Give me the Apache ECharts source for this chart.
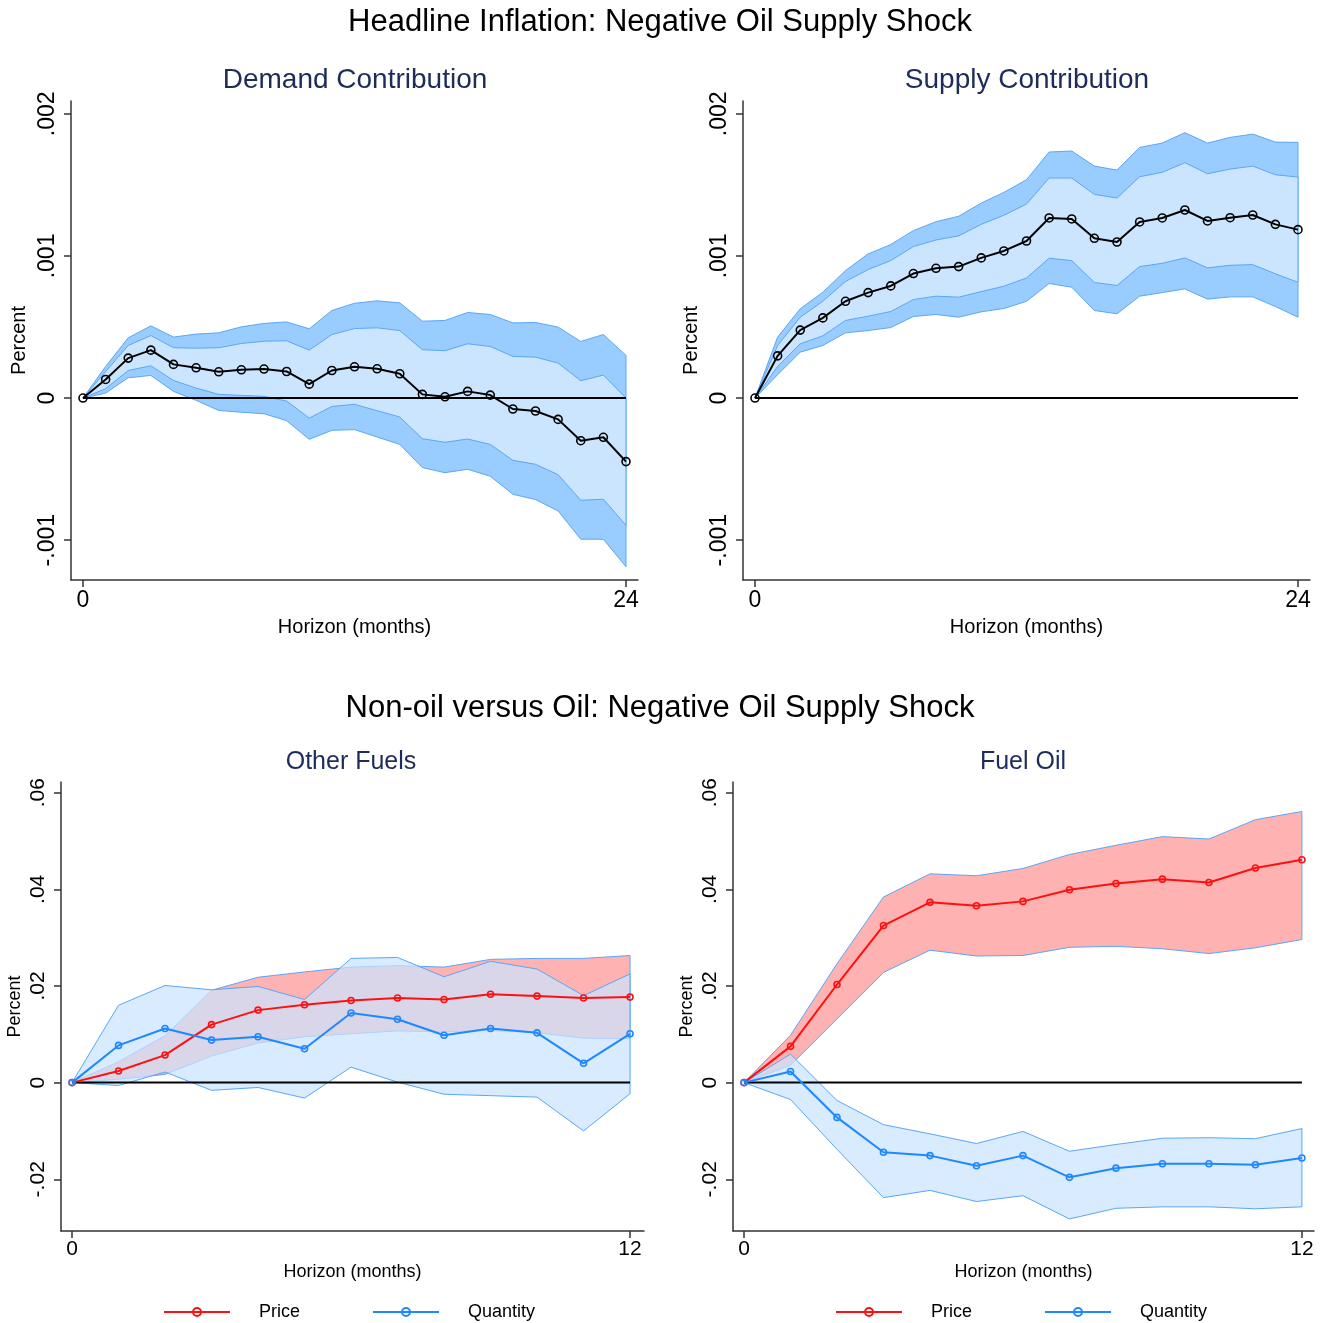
<!DOCTYPE html>
<html>
<head>
<meta charset="utf-8">
<script src="https://cdn.jsdelivr.net/npm/echarts@6/dist/echarts.min.js"></script>
<style>
  html, body { margin: 0; padding: 0; background: #fff; }
  #chart { width: 1327px; height: 1323px; }
</style>
</head>
<body>
<div id="chart"></div>
<script>
// horizons
const horizonLong = [0, 1, 2, 3, 4, 5, 6, 7, 8, 9, 10, 11, 12, 13, 14, 15, 16, 17, 18, 19, 20, 21, 22, 23, 24];
const horizonShort = [0, 1, 2, 3, 4, 5, 6, 7, 8, 9, 10, 11, 12];

// Demand contribution
const demandMid = [0, 0.000131, 0.000281, 0.000337, 0.000237, 0.000213, 0.000185, 0.000199, 0.000204, 0.000187, 0.000098, 0.000194, 0.00022, 0.000206, 0.000171, 0.000026, 0.000009, 0.000047, 0.000021, -0.000077, -0.000091, -0.00015, -0.0003, -0.000276, -0.000447];
const demandHi90 = [0, 0.000222, 0.000424, 0.000508, 0.000429, 0.00045, 0.000459, 0.000501, 0.000525, 0.000536, 0.000487, 0.000616, 0.000667, 0.000684, 0.00067, 0.000541, 0.000546, 0.000602, 0.000588, 0.000529, 0.000532, 0.000499, 0.000398, 0.000447, 0.0003];
const demandHi68 = [0, 0.000187, 0.00037, 0.00044, 0.000354, 0.000351, 0.000354, 0.000384, 0.0004, 0.000403, 0.000337, 0.000447, 0.000489, 0.000494, 0.000475, 0.00034, 0.000333, 0.000382, 0.000363, 0.000293, 0.000288, 0.000246, 0.000122, 0.000162, 0];
const demandLo68 = [0, 0.000066, 0.000194, 0.000227, 0.000124, 0.00007, 0.000026, 0.000019, 0.000012, -0.000021, -0.000141, -0.000059, -0.000044, -0.000089, -0.000133, -0.000286, -0.000311, -0.000288, -0.000326, -0.000438, -0.000466, -0.000539, -0.000719, -0.000712, -0.000895];
const demandLo90 = [0, 0.000035, 0.000143, 0.000159, 0.000047, -0.000016, -0.000087, -0.0001, -0.00011, -0.000159, -0.00029, -0.000227, -0.000222, -0.000274, -0.000326, -0.000489, -0.000525, -0.000501, -0.00055, -0.000677, -0.000714, -0.000794, -0.000993, -0.000993, -0.001187];

// Supply contribution
const supplyMid = [0, 0.000297, 0.000478, 0.000564, 0.000681, 0.000742, 0.000789, 0.000876, 0.000913, 0.000925, 0.000986, 0.001035, 0.001105, 0.001267, 0.00126, 0.001124, 0.001098, 0.001239, 0.001267, 0.001323, 0.001246, 0.001269, 0.001288, 0.001222, 0.001185];
const supplyHi90 = [0, 0.000429, 0.000628, 0.000745, 0.000897, 0.001014, 0.00108, 0.001178, 0.001241, 0.001279, 0.001372, 0.001447, 0.001536, 0.001731, 0.001738, 0.001632, 0.001604, 0.001763, 0.001794, 0.001867, 0.001794, 0.001834, 0.001857, 0.001801, 0.001799];
const supplyHi68 = [0, 0.00037, 0.000569, 0.000681, 0.00082, 0.000904, 0.000967, 0.001066, 0.001112, 0.001141, 0.001222, 0.001286, 0.001365, 0.001548, 0.001548, 0.001433, 0.001407, 0.001557, 0.001588, 0.001656, 0.001578, 0.001611, 0.001632, 0.001571, 0.001555];
const supplyLo68 = [0, 0.000222, 0.000382, 0.000438, 0.000546, 0.000576, 0.000609, 0.000693, 0.000717, 0.00071, 0.000749, 0.000787, 0.000845, 0.000984, 0.000967, 0.000813, 0.000792, 0.000925, 0.000948, 0.000986, 0.000916, 0.000934, 0.000939, 0.000874, 0.000815];
const supplyLo90 = [0, 0.000164, 0.000323, 0.00037, 0.000459, 0.000475, 0.000496, 0.000574, 0.000588, 0.000569, 0.000607, 0.00063, 0.000681, 0.000806, 0.00078, 0.000616, 0.000593, 0.000717, 0.000742, 0.000768, 0.000696, 0.000712, 0.000712, 0.000644, 0.000569];

// Other fuels
const otherPrice = [0, 0.0024, 0.0057, 0.012, 0.015, 0.0161, 0.017, 0.0175, 0.0172, 0.0183, 0.0179, 0.0175, 0.0177];
const otherPriceHi = [0, 0.0043, 0.0097, 0.0191, 0.0218, 0.0229, 0.0239, 0.0242, 0.0239, 0.0255, 0.0257, 0.0257, 0.0263];
const otherPriceLo = [0, 0.0007, 0.0017, 0.0055, 0.0082, 0.0095, 0.0101, 0.0107, 0.0105, 0.0108, 0.0103, 0.0092, 0.0091];
const otherQty = [0, 0.0077, 0.0112, 0.0088, 0.0095, 0.007, 0.0144, 0.0131, 0.0098, 0.0112, 0.0103, 0.004, 0.0101];
const otherQtyHi = [0, 0.016, 0.0201, 0.0192, 0.0199, 0.0172, 0.0257, 0.0259, 0.0219, 0.0251, 0.0235, 0.018, 0.0225];
const otherQtyLo = [0, -0.0006, 0.0022, -0.0016, -0.001, -0.0032, 0.0032, 0.0001, -0.0024, -0.0027, -0.003, -0.01, -0.0023];

// Fuel oil
const fuelPrice = [0, 0.0075, 0.0203, 0.0325, 0.0373, 0.0366, 0.0375, 0.0399, 0.0412, 0.0421, 0.0414, 0.0444, 0.0461];
const fuelPriceHi = [0, 0.0098, 0.0246, 0.0384, 0.0432, 0.0428, 0.0443, 0.0472, 0.0491, 0.0509, 0.0504, 0.0544, 0.0561];
const fuelPriceLo = [0, 0.0036, 0.0132, 0.0228, 0.0274, 0.0262, 0.0263, 0.028, 0.0282, 0.0277, 0.0267, 0.0279, 0.0296];
const fuelQty = [0, 0.0023, -0.0072, -0.0144, -0.0151, -0.0172, -0.0151, -0.0196, -0.0177, -0.0168, -0.0168, -0.017, -0.0156];
const fuelQtyHi = [0, 0.0059, -0.0037, -0.0087, -0.0106, -0.0126, -0.0101, -0.0142, -0.0128, -0.0115, -0.0114, -0.0116, -0.0095];
const fuelQtyLo = [0, -0.0035, -0.0138, -0.0238, -0.0223, -0.0246, -0.0234, -0.0282, -0.026, -0.0257, -0.0257, -0.0261, -0.0257];

// tick labels
const topTicks = [-0.001, 0, 0.001, 0.002];
const bottomTicks = [-0.02, 0, 0.02, 0.04, 0.06];

const FONT = '"Liberation Sans", Arial, sans-serif';
const NAVY = '#1e2c5a';
const EDGE = '#5ba6f7';
const RED = '#ff1010';
const BLUE = '#1e88ff';

const pairs = (xs, ys) => xs.map((x, i) => [x, ys[i]]);
const fmt = v => (v === 0 ? '0' : String(v).replace('0.', '.'));

// shaded band drawn as one polygon through the axis scales
function band(name, g, xs, lo, hi, fill) {
    return {
        name: name, type: 'custom', xAxisIndex: g, yAxisIndex: g, silent: true,
        data: xs.map((x, i) => [x, lo[i], hi[i]]),
        encode: { x: 0, y: [1, 2] },
        renderItem: (params, api) => {
            if (params.dataIndex !== 0) return;
            const up = xs.map((x, i) => api.coord([x, hi[i]]));
            const dn = xs.map((x, i) => api.coord([x, lo[i]])).reverse();
            return {
                type: 'polygon',
                shape: { points: up.concat(dn) },
                style: { fill: fill, stroke: EDGE, lineWidth: 1 }
            };
        }
    };
}

function zero(g, xs, w) {
    return {
        name: 'zero' + g, type: 'line', xAxisIndex: g, yAxisIndex: g, silent: true,
        data: xs.map(x => [x, 0]), symbol: 'none',
        lineStyle: { color: '#000', width: w }
    };
}

function line(name, g, xs, ys, color, size, w) {
    return {
        name: name, type: 'line', xAxisIndex: g, yAxisIndex: g,
        data: pairs(xs, ys), symbol: 'circle', symbolSize: size, showSymbol: true,
        lineStyle: { color: color, width: w },
        itemStyle: { color: 'rgba(255,255,255,0)', borderColor: color, borderWidth: 1.6 }
    };
}

function xAx(g, min, max, last, fs, margin, ns, gap) {
    return {
        type: 'value', gridIndex: g, min: min, max: max,
        name: 'Horizon (months)', nameLocation: 'middle', nameGap: gap,
        nameTextStyle: { fontFamily: FONT, fontSize: ns, color: '#000' },
        axisLine: { show: true, onZero: false, lineStyle: { color: '#333', width: 1.5 } },
        axisTick: { show: true, customValues: [0, last], length: 7, lineStyle: { color: '#333', width: 1.5 } },
        axisLabel: { customValues: [0, last], fontFamily: FONT, fontSize: fs, color: '#000', margin: margin },
        splitLine: { show: false }
    };
}

function yAx(g, min, max, ticks, fs, margin, ns, gap) {
    return {
        type: 'value', gridIndex: g, min: min, max: max,
        name: 'Percent', nameLocation: 'middle', nameGap: gap, nameRotate: 90,
        nameTextStyle: { fontFamily: FONT, fontSize: ns, color: '#000' },
        axisLine: { show: true, onZero: false, lineStyle: { color: '#333', width: 1.5 } },
        axisTick: { show: true, customValues: ticks, length: 7, lineStyle: { color: '#333', width: 1.5 } },
        axisLabel: { customValues: ticks, rotate: 90, formatter: fmt, fontFamily: FONT, fontSize: fs, color: '#000', margin: margin },
        splitLine: { show: false }
    };
}

function heading(text, x, y, size, color) {
    return {
        type: 'text', x: x, y: y,
        style: { text: text, font: size + 'px ' + FONT, fill: color, align: 'center', verticalAlign: 'middle' }
    };
}

function legendAt(left) {
    return {
        left: left, top: 1298, data: ['Price', 'Quantity'],
        itemWidth: 66, itemHeight: 10, itemGap: 72,
        textStyle: { fontFamily: FONT, fontSize: 18, color: '#000', padding: [0, 0, 0, 24] }
    };
}

const chart = echarts.init(document.getElementById('chart'));

const option = {
    animation: false,
    backgroundColor: '#fff',
    graphic: [
        heading('Headline Inflation: Negative Oil Supply Shock', 660, 22, 31, '#000'),
        heading('Demand Contribution', 355, 80, 28, NAVY),
        heading('Supply Contribution', 1027, 80, 28, NAVY),
        heading('Non-oil versus Oil: Negative Oil Supply Shock', 660, 708, 31, '#000'),
        heading('Other Fuels', 351, 762, 25, NAVY),
        heading('Fuel Oil', 1023, 762, 25, NAVY)
    ],
    grid: [
        { left: 71, top: 101, width: 567, height: 479, outerBoundsMode: 'none' },
        { left: 743, top: 101, width: 567, height: 479, outerBoundsMode: 'none' },
        { left: 61, top: 782, width: 583, height: 449, outerBoundsMode: 'none' },
        { left: 733, top: 782, width: 581, height: 449, outerBoundsMode: 'none' }
    ],
    xAxis: [
        xAx(0, -0.53, 24.53, 24, 23, 9, 20, 37),
        xAx(1, -0.53, 24.53, 24, 23, 9, 20, 37),
        xAx(2, -0.237, 12.3, 12, 21, 8, 18, 32),
        xAx(3, -0.237, 12.26, 12, 21, 8, 18, 32)
    ],
    yAxis: [
        yAx(0, -0.00128, 0.00209, topTicks, 23, 12, 20, 42),
        yAx(1, -0.00128, 0.00209, topTicks, 23, 12, 20, 42),
        yAx(2, -0.0307, 0.0622, bottomTicks, 21, 12, 18, 37),
        yAx(3, -0.0307, 0.0622, bottomTicks, 21, 12, 18, 37)
    ],
    legend: [legendAt(158), legendAt(830)],
    series: [
        // demand
        band('demand90', 0, horizonLong, demandLo90, demandHi90, '#99ccff'),
        band('demand68', 0, horizonLong, demandLo68, demandHi68, '#cce5ff'),
        zero(0, horizonLong, 2),
        line('Demand', 0, horizonLong, demandMid, '#000', 8, 2),
        // supply
        band('supply90', 1, horizonLong, supplyLo90, supplyHi90, '#99ccff'),
        band('supply68', 1, horizonLong, supplyLo68, supplyHi68, '#cce5ff'),
        zero(1, horizonLong, 2),
        line('Supply', 1, horizonLong, supplyMid, '#000', 8, 2),
        // other fuels
        band('otherPriceBand', 2, horizonShort, otherPriceLo, otherPriceHi, '#ffb2b2'),
        band('otherQtyBand', 2, horizonShort, otherQtyLo, otherQtyHi, 'rgba(202,227,255,0.72)'),
        zero(2, horizonShort, 2),
        line('Price', 2, horizonShort, otherPrice, RED, 6, 2),
        line('Quantity', 2, horizonShort, otherQty, BLUE, 6, 2),
        // fuel oil
        zero(3, horizonShort, 2),
        band('fuelPriceBand', 3, horizonShort, fuelPriceLo, fuelPriceHi, '#ffb2b2'),
        band('fuelQtyBand', 3, horizonShort, fuelQtyLo, fuelQtyHi, 'rgba(202,227,255,0.72)'),
        line('Price', 3, horizonShort, fuelPrice, RED, 6, 2),
        line('Quantity', 3, horizonShort, fuelQty, BLUE, 6, 2)
    ]
};

chart.setOption(option);
</script>
</body>
</html>
